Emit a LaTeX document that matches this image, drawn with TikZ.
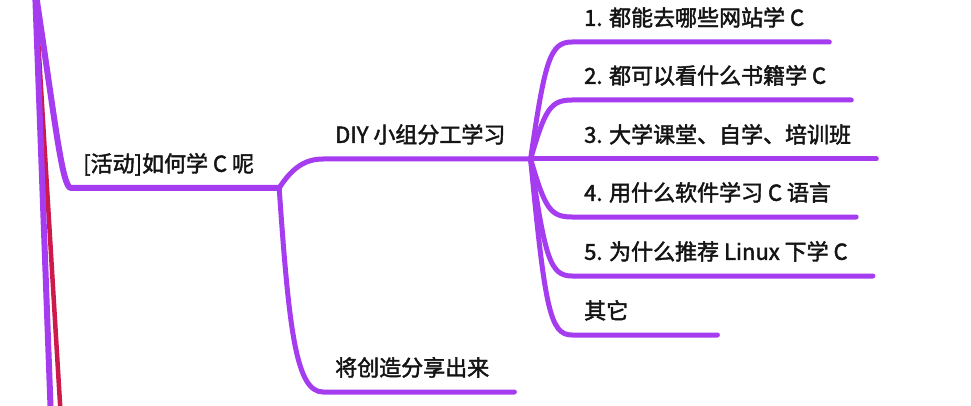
\documentclass[tikz,border=0pt]{standalone}
\usepackage{fontspec}
\usepackage{xcolor}
\usepackage{tikz}
\usetikzlibrary{calc}
\newfontfamily\cjkfont[FakeBold=2]{Noto Sans CJK SC}
\definecolor{mmpurple}{RGB}{165,60,240}
\definecolor{mmred}{RGB}{205,25,75}
\definecolor{mmtext}{RGB}{20,20,20}

\begin{document}
\begin{tikzpicture}[x=1pt, y=-1pt,
    branch/.style={draw=mmpurple, line width=5pt, line cap=round},
    trunk/.style={draw=mmpurple, line width=6pt, line cap=round},
    topic/.style={font=\cjkfont\fontsize{22}{26}\selectfont, text=mmtext,
      anchor=south west, inner xsep=12pt, inner ysep=16pt,
      text height=14pt, text depth=0pt}]
  \useasboundingbox[fill=white] (0,0) rectangle (971,406);
  \coordinate (root) at (35,-12);
  \coordinate (down) at (51,420);
  \coordinate (rdown) at (61,420);

  \node[topic] (act) at (71,188) {[活动]如何学 C 呢};
  \coordinate (actend) at ([xshift=13pt]act.south east);
  \node[topic] (diy) at (323,159) {DIY 小组分工学习};
  \coordinate (diyend) at ([xshift=13pt]diy.south east);
  \node[topic] (share) at (323,392) {将创造分享出来};

  \node[topic] (t1) at (572,42)  {1. 都能去哪些网站学 C};
  \node[topic] (t2) at (572,100) {2. 都可以看什么书籍学 C};
  \node[topic] (t3) at (572,159) {3. 大学课堂、自学、培训班};
  \node[topic] (t4) at (572,217) {4. 用什么软件学习 C 语言};
  \node[topic] (t5) at (572,276) {5. 为什么推荐 Linux 下学 C};
  \node[topic, text width=108pt, align=left] (t6) at (572,335) {其它};

  \draw[mmred, line width=4.5pt, line cap=round] (root) -- (rdown);
  \draw[trunk] (root) -- (down);
  \draw[trunk] (root) .. controls (55,120) and (62,188) .. (act.south west)
    -- (actend);
  \draw[branch] (actend) .. controls (292,168) and (305,159) .. (diy.south west)
    -- (diyend);
  \draw[branch] (actend) .. controls (289,330) and (296,392) .. (share.south west)
    -- ([xshift=13pt]share.south east);

  \draw[branch] (diyend) .. controls (545,60) and (550,42) .. (t1.south west)
    -- ([xshift=13pt]t1.south east);
  \draw[branch] (diyend) .. controls (545,110) and (550,100) .. (t2.south west)
    -- ([xshift=13pt]t2.south east);
  \draw[branch] (diyend) -- (t3.south west) -- ([xshift=13pt]t3.south east);
  \draw[branch] (diyend) .. controls (545,208) and (550,217) .. (t4.south west)
    -- ([xshift=13pt]t4.south east);
  \draw[branch] (diyend) .. controls (545,258) and (550,276) .. (t5.south west)
    -- ([xshift=13pt]t5.south east);
  \draw[branch] (diyend) .. controls (545,309) and (550,335) .. (t6.south west)
    -- ([xshift=13pt]t6.south east);
\end{tikzpicture}
\end{document}
